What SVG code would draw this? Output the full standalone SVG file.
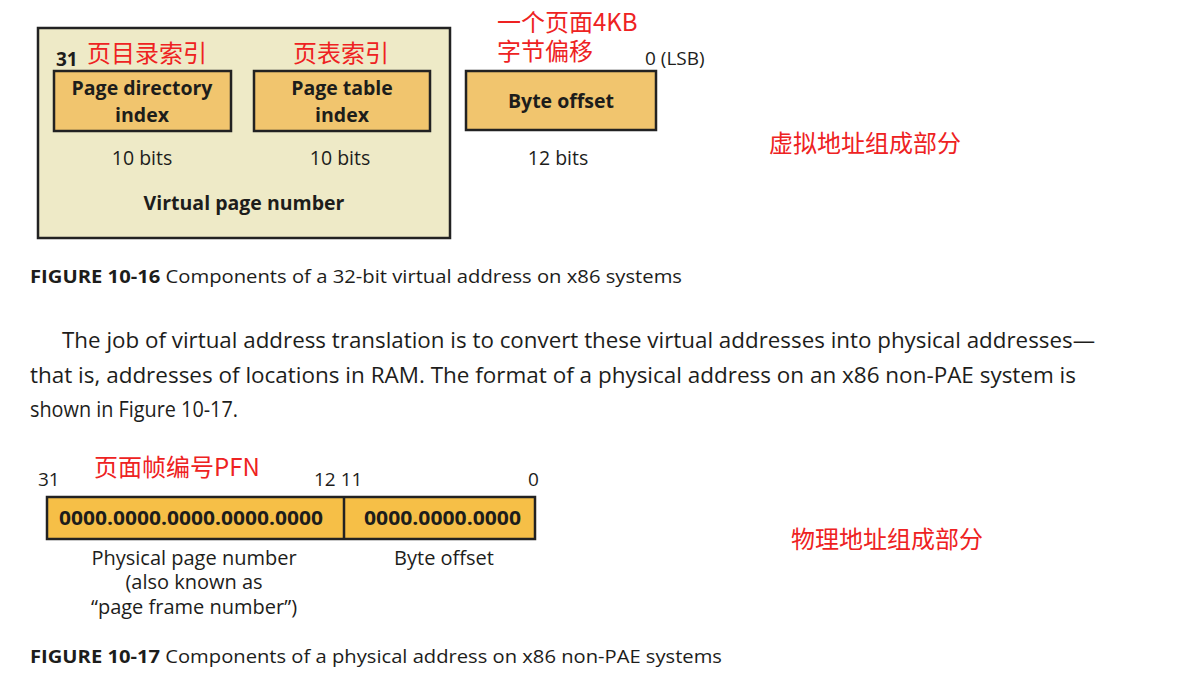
<svg xmlns="http://www.w3.org/2000/svg" width="1202" height="686" viewBox="0 0 1202 686">
<style>
.t{font-family:"Open Sans","Noto Sans",sans-serif;fill:#1d1d1b}
.b{font-weight:bold}
.cn{font-family:"Noto Sans CJK SC","Noto Sans",sans-serif;fill:#ee2222;font-size:24px}
.fld{fill:#f1c56e;stroke:#222;stroke-width:2.5}
.m{text-anchor:middle}
</style>
<rect width="1202" height="686" fill="#fff"/>
<g id="virtual-address">
<rect x="38" y="28" width="412" height="210" fill="#eeeac7" stroke="#222" stroke-width="2.5"/>
<text class="t b" x="56" y="66" font-size="19">31</text>
<text class="cn" x="87" y="62">页目录索引</text>
<text class="cn" x="293" y="62">页表索引</text>
</g>
<g id="page-directory-index">
<rect class="fld" x="54" y="71" width="177" height="60"/>
<text class="t b m" x="142" y="95" font-size="19.5">Page directory<tspan x="142" dy="27">index</tspan></text>
<text class="t m" x="142" y="165" font-size="19.5">10 bits</text>
</g>
<g id="page-table-index">
<rect class="fld" x="254" y="71" width="176" height="60"/>
<text class="t b m" x="342" y="95" font-size="19.5">Page table<tspan x="342" dy="27">index</tspan></text>
<text class="t m" x="340" y="165" font-size="19.5">10 bits</text>
</g>
<text class="t b m" x="244" y="210" font-size="19.5">Virtual page number</text>
<g id="byte-offset-v">
<text class="cn" x="497" y="31">一个页面4KB<tspan x="497" dy="29">字节偏移</tspan></text>
<text class="t" x="645" y="65" font-size="19">0 (LSB)</text>
<rect class="fld" x="466" y="71" width="190" height="59"/>
<text class="t b m" x="561" y="108" font-size="19.5">Byte offset</text>
<text class="t m" x="558" y="165" font-size="19.5">12 bits</text>
</g>
<text class="cn" x="769" y="152">虚拟地址组成部分</text>
<text class="t" x="30" y="283" font-size="18" textLength="652" lengthAdjust="spacingAndGlyphs"><tspan class="b">FIGURE 10-16</tspan>  Components of a 32-bit virtual address on x86 systems</text>
<text class="t" x="62" y="348" font-size="21" textLength="1033" lengthAdjust="spacingAndGlyphs">The job of virtual address translation is to convert these virtual addresses into physical addresses—</text>
<text class="t" x="30" y="383" font-size="21" textLength="1046" lengthAdjust="spacingAndGlyphs">that is, addresses of locations in RAM. The format of a physical address on an x86 non-PAE system is</text>
<text class="t" x="30" y="417" font-size="21" textLength="208" lengthAdjust="spacingAndGlyphs">shown in Figure 10-17.</text>
<g id="physical-address">
<text class="cn" x="94" y="476">页面帧编号PFN</text>
<text class="t" x="38" y="486" font-size="19">31</text>
<text class="t" x="314" y="486" font-size="19">12 11</text>
<text class="t" x="528" y="486" font-size="19">0</text>
<rect x="47" y="497" width="488" height="42" fill="#f6bf47" stroke="#222" stroke-width="2.5"/>
<line x1="344" y1="497" x2="344" y2="539" stroke="#222" stroke-width="2.5"/>
<text class="t b" x="59" y="525" font-size="19" textLength="264" lengthAdjust="spacingAndGlyphs">0000.0000.0000.0000.0000</text>
<text class="t b" x="364" y="525" font-size="19" textLength="157" lengthAdjust="spacingAndGlyphs">0000.0000.0000</text>
<text class="t m" x="194" y="565" font-size="20">Physical page number<tspan x="194" dy="24">(also known as</tspan><tspan x="194" dy="25">“page frame number”)</tspan></text>
<text class="t m" x="444" y="565" font-size="20">Byte offset</text>
</g>
<text class="cn" x="791" y="548">物理地址组成部分</text>
<text class="t" x="30" y="663" font-size="18" textLength="692" lengthAdjust="spacingAndGlyphs"><tspan class="b">FIGURE 10-17</tspan>  Components of a physical address on x86 non-PAE systems</text>
</svg>
